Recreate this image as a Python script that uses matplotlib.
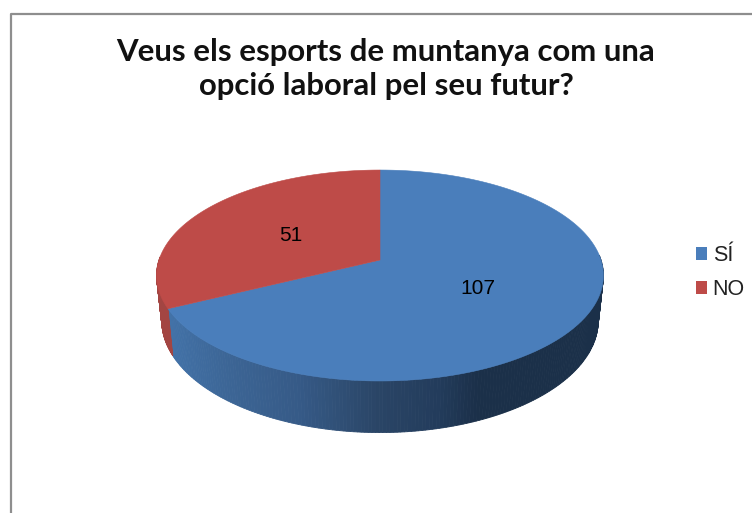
import numpy as np
import matplotlib
matplotlib.use("Agg")
import matplotlib.pyplot as plt
from matplotlib.patches import Polygon, Rectangle
from matplotlib.lines import Line2D
from matplotlib.colors import to_rgb

categories = ["SÍ", "NO"]
values = [107, 51]
title = "Veus els esports de muntanya com una\nopció laboral pel seu futur?"

top_colors = ["#4a7ebb", "#be4b48"]
side_stops_x = [168, 230, 300, 380, 440, 480, 604]
side_stops_c = ["#4272a8", "#3c6595", "#365a87", "#2a4566", "#233c5c", "#1b3049", "#1b3049"]
red_side = "#a34542"

CX, CY = 380.0, 260.0
A, B, P = 221.0, 103.2, 0.147
DEPTH, SHRINK = 44.0, 0.977


def project(theta):
    X, Y = np.cos(theta), np.sin(theta)
    s = 1 / (1 + P * Y)
    return CX + A * X * s, CY - B * Y * s, s


def side_color(x):
    rgb = np.array([to_rgb(c) for c in side_stops_c])
    return [np.interp(x, side_stops_x, rgb[:, i]) for i in range(3)]


fig = plt.figure(figsize=(7.52, 5.13), dpi=100, facecolor="white")
ax = fig.add_axes([0, 0, 1, 1])
ax.set_xlim(0, 752)
ax.set_ylim(513, 0)
ax.axis("off")

ax.add_line(Line2D([760, 10.5, 10.5], [13.5, 13.5, 520], color="#8e8e8e", lw=1.6, zorder=1))

fractions = np.array(values, dtype=float) / sum(values)
ends = np.pi / 2 - 2 * np.pi * np.cumsum(fractions)
starts = np.r_[np.pi / 2, ends[:-1]]

# side walls
for i in range(len(values)):
    th = np.linspace(starts[i], ends[i], 300)
    x, y, s = project(th)
    xb, yb = CX + (x - CX) * SHRINK, y + DEPTH * s
    for j in range(len(th) - 1):
        if np.sin(th[j]) > 0.05 and not (np.cos(th[j]) < 0 and i == 1):
            continue
        if i == 1 and np.sin(th[j]) > -0.02 and x[j] > 160 and y[j] < CY:
            continue
        c = side_color(x[j]) if i == 0 else red_side
        ax.add_patch(Polygon([[x[j], y[j]], [x[j + 1], y[j + 1]], [xb[j + 1], yb[j + 1]], [xb[j], yb[j]]],
                             facecolor=c, edgecolor=c, lw=0.6, zorder=2))

# top faces
for i in range(len(values)):
    th = np.linspace(starts[i], ends[i], 300)
    x, y, _ = project(th)
    ax.add_patch(Polygon(np.c_[np.r_[CX, x], np.r_[CY, y]], closed=True, facecolor=top_colors[i],
                         edgecolor=top_colors[i], lw=0.4, zorder=3))
    mid = (starts[i] + ends[i]) / 2
    mx, my, _ = project(mid)
    ax.text(CX - 3 + (mx - CX) * 0.495, CY + (my - CY) * 0.48, str(values[i]), ha="center", va="center",
            fontsize=15, family="Liberation Sans", color="#000000", zorder=4)

ax.text(386, 69, title, ha="center", va="center", fontsize=22.4, fontweight="bold",
        family="Lato", color="#111111", linespacing=1.28)

handles = [Rectangle((0, 0), 1, 1, facecolor=c, edgecolor="none") for c in top_colors]
ax.legend(handles, categories, loc="upper left", bbox_to_anchor=(696 / 752, 1 - 245 / 513), frameon=False,
          prop={"family": "Liberation Sans", "size": 15.5}, handlelength=0.52, handleheight=0.52,
          handletextpad=0.25, labelspacing=0.62, borderpad=0, borderaxespad=0, labelcolor="#222222")

fig.savefig("out.png", dpi=100, facecolor="white")
